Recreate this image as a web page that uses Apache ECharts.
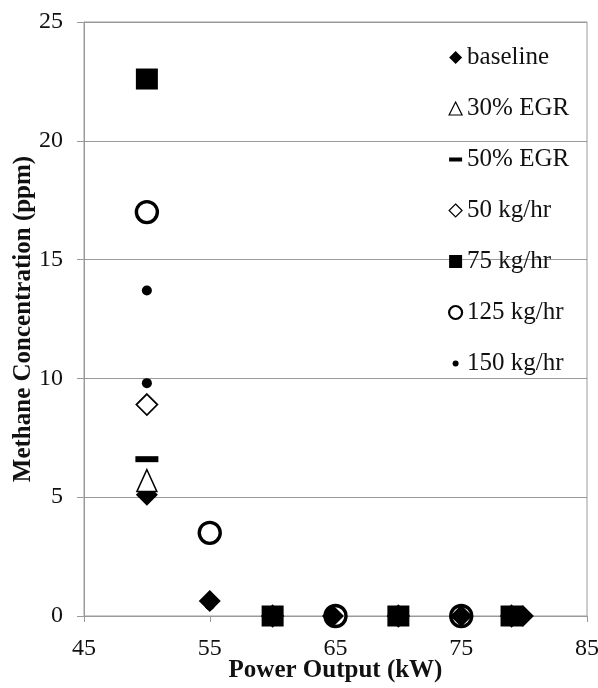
<!DOCTYPE html>
<html><head><meta charset="utf-8">
<script src="https://cdn.jsdelivr.net/npm/echarts@6/dist/echarts.min.js"></script>
<style>html,body{margin:0;padding:0;background:#fff}#c{width:598px;height:688px}</style>
</head><body><div id="c"></div>
<script>
const xTicks = [45, 55, 65, 75, 85];
const yTicks = [0, 5, 10, 15, 20, 25];
const seriesNames = ['baseline', '30% EGR', '50% EGR', '50 kg/hr', '75 kg/hr', '125 kg/hr', '150 kg/hr'];
const baseline = [[50, 5.1], [55, 0.63], [60, 0], [64.8, 0], [70, 0], [75, 0], [79.9, 0]];
const egr30 = [[50, 5.7]];
const egr50 = [[50, 6.6]];
const kg50 = [[50, 8.9], [60, 0], [70, 0], [79, 0]];
const kg75 = [[50, 22.6], [60, 0], [70, 0], [79, 0]];
const kg125 = [[50, 17.0], [55, 3.5], [65, 0], [75, 0]];
const kg150 = [[50, 13.7], [50, 9.8], [55, 0.45], [65, 0], [75, 0]];

const serif = 'Liberation Serif';
const styles = [
  {symbol: 'diamond', size: [22, 22], itemStyle: {color: '#000', opacity: 1}, icon: 'diamond', z: 5},
  {symbol: 'triangle', size: [20, 22], itemStyle: {color: '#fff', borderColor: '#000', borderWidth: 1.5, opacity: 1}, icon: 'triangle', z: 7},
  {symbol: 'rect', size: [23, 6], itemStyle: {color: '#000', opacity: 1}, icon: 'path://M0,0h13v4h-13z', z: 8},
  {symbol: 'diamond', size: [21, 21], itemStyle: {color: '#fff', borderColor: '#000', borderWidth: 1.7, opacity: 1}, icon: 'diamond', z: 3},
  {symbol: 'rect', size: [22, 21], itemStyle: {color: '#000', opacity: 1}, icon: 'rect', z: 4},
  {symbol: 'circle', size: 21, itemStyle: {color: '#fff', borderColor: '#000', borderWidth: 3.4, opacity: 1}, icon: 'circle', z: 2},
  {symbol: 'circle', size: 10, itemStyle: {color: '#000', opacity: 1}, icon: 'path://M0,0M13,13M3.5,6.5a3,3 0 1,0 6,0a3,3 0 1,0 -6,0z', z: 6}
];
const datas = [baseline, egr30, egr50, kg50, kg75, kg125, kg150];

const chart = echarts.init(document.getElementById('c'), null, {renderer: 'canvas'});
const series = seriesNames.map((n, i) => ({
  name: n, type: 'scatter', data: datas[i],
  symbol: styles[i].symbol, symbolSize: styles[i].size,
  itemStyle: styles[i].itemStyle, z: styles[i].z,
  emphasis: {disabled: true}
}));
const legendStyle = (s) => {
  const o = Object.assign({}, s.itemStyle);
  if (o.borderWidth) o.borderWidth = o.borderWidth > 3 ? 2.2 : 1.2; else o.borderWidth = 0;
  return o;
};
chart.setOption({
  animation: false,
  grid: {left: 84, right: 11, top: 22, bottom: 72, show: true, borderColor: '#9a9a9a', borderWidth: 1,
    outerBoundsMode: 'none', containLabel: false},
  legend: {
    orient: 'vertical', left: 443, top: 40, padding: 5, itemGap: 26, itemWidth: 13, itemHeight: 13,
    textStyle: {fontFamily: serif, fontSize: 25, color: '#111'},
    data: seriesNames.map((n, i) => ({name: n, icon: styles[i].icon, itemStyle: legendStyle(styles[i])}))
  },
  xAxis: {
    type: 'value', min: 45, max: 85, interval: 10,
    name: 'Power Output (kW)', nameLocation: 'middle', nameGap: 42, nameMoveOverlap: false,
    nameTextStyle: {fontFamily: serif, fontSize: 25, fontWeight: 'bold', color: '#111'},
    axisLine: {show: true, lineStyle: {color: '#9a9a9a'}},
    axisTick: {show: true, length: 6, lineStyle: {color: '#9a9a9a'}},
    axisLabel: {fontFamily: serif, fontSize: 24, color: '#111', margin: 21,
      formatter: v => xTicks.includes(v) ? String(v) : ''},
    splitLine: {show: false}
  },
  yAxis: {
    type: 'value', min: 0, max: 25, interval: 5,
    name: 'Methane Concentration (ppm)', nameLocation: 'middle', nameGap: 48, nameMoveOverlap: false,
    nameTextStyle: {fontFamily: serif, fontSize: 25, fontWeight: 'bold', color: '#111'},
    axisLine: {show: true, lineStyle: {color: '#9a9a9a'}},
    axisTick: {show: true, length: 7, inside: false, lineStyle: {color: '#9a9a9a'}},
    axisLabel: {fontFamily: serif, fontSize: 24, color: '#111', margin: 21,
      formatter: v => yTicks.includes(v) ? String(v) : ''},
    splitLine: {show: true, lineStyle: {color: '#9a9a9a'}}
  },
  series: series
});
</script></body></html>
